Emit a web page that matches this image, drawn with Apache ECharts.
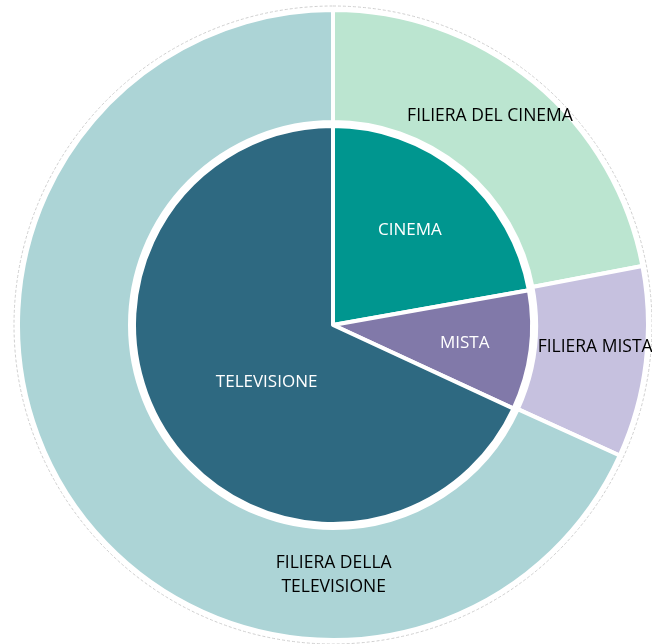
<!DOCTYPE html>
<html>
<head>
<meta charset="utf-8">
<script src="https://cdn.jsdelivr.net/npm/echarts@6/dist/echarts.min.js"></script>
<style>
  html, body { margin: 0; padding: 0; background: #fff; }
  #chart { width: 652px; height: 644px; }
</style>
</head>
<body>
<div id="chart"></div>
<script type="text/javascript">
  // settori interni (tipo di produzione)
  var innerNames = ['CINEMA', 'MISTA', 'TELEVISIONE'];
  var innerValues = [22.2, 9.7, 68.1];
  // anello esterno (filiera)
  var outerNames = ['FILIERA DEL CINEMA', 'FILIERA MISTA', 'FILIERA DELLA\nTELEVISIONE'];
  var outerValues = [22.0, 9.8, 68.2];

  var innerColors = ['#00968f', '#8179a9', '#2e6981'];
  var outerColors = ['#bbe5d0', '#c6c1df', '#acd4d6'];
  // spostamento etichette rispetto alla posizione 'inside'
  var innerOffsets = [[11, -16], [30, 5], [20, 2]];
  var outerOffsets = [[-10, -7], [2, -9], [221, 108]];

  var font = '"Open Sans", "Noto Sans", sans-serif';

  var innerData = innerNames.map(function (n, i) {
    return {
      name: n, value: innerValues[i],
      itemStyle: { color: innerColors[i] },
      label: { offset: innerOffsets[i] }
    };
  });
  var outerData = outerNames.map(function (n, i) {
    return {
      name: n, value: outerValues[i],
      itemStyle: { color: outerColors[i] },
      label: { offset: outerOffsets[i] }
    };
  });

  var myChart = echarts.init(document.getElementById('chart'));
  myChart.setOption({
    animation: false,
    series: [
      {
        // bordo grigio tratteggiato attorno al grafico
        type: 'pie',
        center: [333, 325],
        radius: [0, 319],
        silent: true,
        z: 1,
        itemStyle: { color: 'rgba(0,0,0,0)', borderColor: '#cfcfcf', borderWidth: 1, borderType: [3, 2] },
        label: { show: false },
        labelLine: { show: false },
        data: [{ name: '', value: 1 }]
      },
      {
        type: 'pie',
        center: [333, 325],
        radius: [203, 315],
        startAngle: 90,
        clockwise: true,
        z: 2,
        itemStyle: { borderColor: '#fff', borderWidth: 4 },
        label: {
          show: true, position: 'inside', formatter: '{b}',
          color: '#000', fontSize: 17.5, fontFamily: font, lineHeight: 24
        },
        labelLine: { show: false },
        emphasis: { disabled: true },
        data: outerData
      },
      {
        type: 'pie',
        center: [333, 325],
        radius: [0, 199],
        startAngle: 90,
        clockwise: true,
        z: 3,
        itemStyle: { borderColor: '#fff', borderWidth: 4 },
        label: {
          show: true, position: 'inside', formatter: '{b}',
          color: '#fff', fontSize: 17, fontFamily: font
        },
        labelLine: { show: false },
        emphasis: { disabled: true },
        data: innerData
      }
    ]
  });
</script>
</body>
</html>
